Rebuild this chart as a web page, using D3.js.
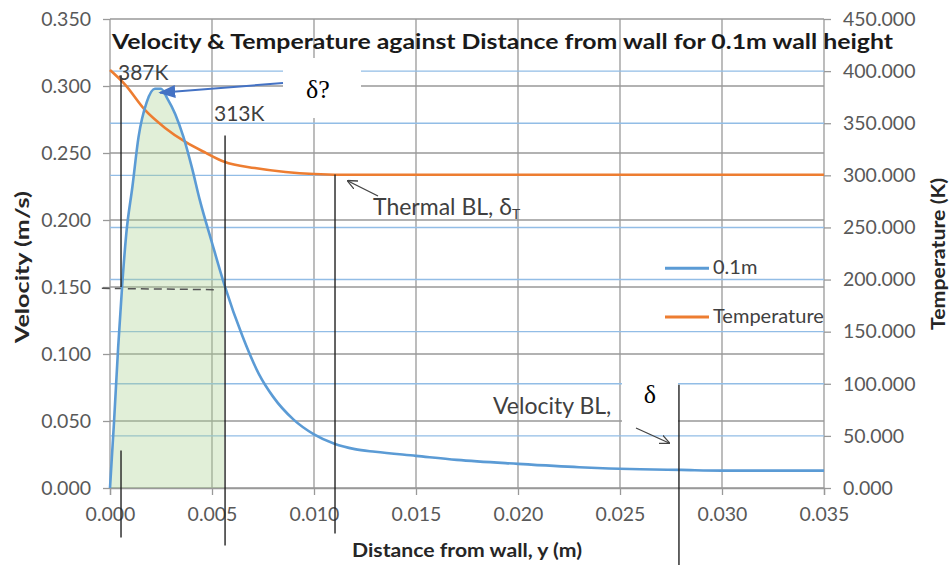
<!DOCTYPE html>
<html>
<head>
<meta charset="utf-8">
<script src="https://cdn.jsdelivr.net/npm/d3@7"></script>
<style>
  body { margin: 0; background: #fff; }
  svg { display: block; font-family: Lato, "Open Sans", sans-serif; }
</style>
</head>
<body>
<svg id="chart" width="949" height="565"></svg>
<script>
// datos
const velDist = [0, 0.0002, 0.0004, 0.0006, 0.0008, 0.0011, 0.0014, 0.0018, 0.0022, 0.0025, 0.0028, 0.0032,
  0.0036, 0.004, 0.0044, 0.005, 0.0056, 0.0065, 0.0073, 0.008, 0.009, 0.010, 0.011, 0.012, 0.013, 0.015,
  0.017, 0.020, 0.023, 0.026, 0.028, 0.030, 0.035];
const velocity = [0, 0.05, 0.105, 0.152, 0.19, 0.225, 0.262, 0.288, 0.298, 0.298, 0.291, 0.279,
  0.262, 0.240, 0.215, 0.183, 0.152, 0.113, 0.085, 0.068, 0.051, 0.040, 0.033, 0.029, 0.027, 0.024,
  0.021, 0.018, 0.0155, 0.014, 0.0135, 0.013, 0.013];
const tempDist = [0, 0.00074, 0.0017, 0.0027, 0.0037, 0.0047, 0.0056, 0.0071, 0.0086, 0.010, 0.012, 0.035];
const temperature = [401, 387, 363, 345.5, 332, 321.5, 313, 307, 303.2, 301.3, 300.5, 300.5];

const xTicks = [0, 0.005, 0.010, 0.015, 0.020, 0.025, 0.030, 0.035];
const velTicks = [0, 0.05, 0.10, 0.15, 0.20, 0.25, 0.30, 0.35];
const tempTicks = [0, 50, 100, 150, 200, 250, 300, 350, 400, 450];

// zona sombreada bajo la curva de velocidad
const shadeEnd = 0.0056;
// líneas verticales de referencia [x, desde, hasta] en m/s
const markers = [[0.00054, 0.150, 0.308], [0.00054, -0.037, 0.028], [0.00564, -0.043, 0.263],
  [0.01103, -0.034, 0.234], [0.02789, -0.058, 0.077]];

const svg = d3.select("#chart");
const mLeft = 110, mRight = 824, mTop = 19, mBottom = 488;

const x = d3.scaleLinear().domain([0, 0.035]).range([mLeft, mRight]);
const yV = d3.scaleLinear().domain([0, 0.35]).range([mBottom, mTop]);
const yT = d3.scaleLinear().domain([0, 450]).range([mBottom, mTop]);

const gridGray = "#999";
const gridBlue = "#92bde6";
const labelColor = "#595959";

// rejilla gris
svg.append("g").selectAll("line").data(velTicks).enter().append("line")
  .attr("x1", mLeft).attr("x2", mRight)
  .attr("y1", d => yV(d)).attr("y2", d => yV(d))
  .attr("stroke", gridGray).attr("stroke-width", 1.3);
svg.append("g").selectAll("line").data(xTicks).enter().append("line")
  .attr("x1", d => x(d)).attr("x2", d => x(d))
  .attr("y1", mTop).attr("y2", mBottom)
  .attr("stroke", gridGray).attr("stroke-width", 1.3);
// rejilla azul (eje de temperatura)
svg.append("g").selectAll("line").data(tempTicks.filter(d => d > 0 && d < 450)).enter().append("line")
  .attr("x1", mLeft).attr("x2", mRight)
  .attr("y1", d => yT(d)).attr("y2", d => yT(d))
  .attr("stroke", gridBlue).attr("stroke-width", 1.4);

// ejes
const axisL = svg.append("g").attr("transform", `translate(${mLeft},0)`)
  .call(d3.axisLeft(yV).tickValues(velTicks).tickFormat(d3.format(".3f")).tickSize(7).tickPadding(12));
const axisR = svg.append("g").attr("transform", `translate(${mRight},0)`)
  .call(d3.axisRight(yT).tickValues(tempTicks).tickFormat(d3.format(".3f")).tickSize(7).tickPadding(12));
const axisB = svg.append("g").attr("transform", `translate(0,${mBottom})`)
  .call(d3.axisBottom(x).tickValues(xTicks).tickFormat(d3.format(".3f")).tickSize(7).tickPadding(12));
[axisL, axisR, axisB].forEach(a => {
  a.select(".domain").attr("stroke", gridGray).attr("stroke-width", 1.3);
  a.selectAll(".tick line").attr("stroke", gridGray).attr("stroke-width", 1.3);
  a.selectAll("text").attr("fill", labelColor).style("font-size", "19.5px").style("font-family", "Lato");
});
axisL.select(".domain").remove();
axisR.select(".domain").remove();

// área sombreada
const shadeData = velDist.map((d, i) => [d, velocity[i]]).filter(d => d[0] <= shadeEnd);
svg.append("path")
  .datum(shadeData)
  .attr("d", d3.area().x(d => x(d[0])).y0(yV(0)).y1(d => yV(d[1])).curve(d3.curveMonotoneX))
  .attr("fill", "#a9d18e").attr("fill-opacity", 0.35);

// línea discontinua
svg.append("line")
  .attr("x1", x(-0.0004)).attr("x2", x(0.0053))
  .attr("y1", yV(0.149)).attr("y2", yV(0.148))
  .attr("stroke", "#555").attr("stroke-width", 1.5).attr("stroke-dasharray", "8,5");

// series
svg.append("path")
  .datum(tempDist.map((d, i) => [d, temperature[i]]))
  .attr("d", d3.line().x(d => x(d[0])).y(d => yT(d[1])).curve(d3.curveMonotoneX))
  .attr("fill", "none").attr("stroke", "#ed7d31").attr("stroke-width", 2.6);
svg.append("path")
  .datum(velDist.map((d, i) => [d, velocity[i]]))
  .attr("d", d3.line().x(d => x(d[0])).y(d => yV(d[1])).curve(d3.curveMonotoneX))
  .attr("fill", "none").attr("stroke", "#5b9bd5").attr("stroke-width", 2.6);

// líneas verticales
svg.append("g").selectAll("line").data(markers).enter().append("line")
  .attr("x1", d => x(d[0])).attr("x2", d => x(d[0]))
  .attr("y1", d => yV(d[1])).attr("y2", d => yV(d[2]))
  .attr("stroke", "#222").attr("stroke-width", 1.4);

// título
svg.append("text")
  .attr("x", 112).attr("y", 49)
  .attr("font-weight", "bold").attr("font-size", 20).attr("fill", "#1a1a1a")
  .attr("textLength", 781).attr("lengthAdjust", "spacingAndGlyphs")
  .text("Velocity & Temperature against Distance from wall for 0.1m wall height");

// títulos de ejes
svg.append("text")
  .attr("transform", "translate(29,267) rotate(-90)")
  .attr("text-anchor", "middle").attr("font-weight", "bold").attr("font-size", 18).attr("fill", "#262626")
  .attr("textLength", 152).attr("lengthAdjust", "spacingAndGlyphs")
  .text("Velocity (m/s)");
svg.append("text")
  .attr("transform", "translate(945,254) rotate(-90)")
  .attr("text-anchor", "middle").attr("font-weight", "bold").attr("font-size", 18).attr("fill", "#262626")
  .attr("textLength", 152).attr("lengthAdjust", "spacingAndGlyphs")
  .text("Temperature (K)");
svg.append("text")
  .attr("x", 467).attr("y", 557)
  .attr("text-anchor", "middle").attr("font-weight", "bold").attr("font-size", 18).attr("fill", "#262626")
  .attr("textLength", 230).attr("lengthAdjust", "spacingAndGlyphs")
  .text("Distance from wall, y (m)");

// leyenda
const legend = [["0.1m", "#5b9bd5", 0.164], ["Temperature", "#ed7d31", 0.1276]];
legend.forEach(([name, color, v]) => {
  svg.append("line").attr("x1", 665).attr("x2", 709).attr("y1", yV(v)).attr("y2", yV(v))
    .attr("stroke", color).attr("stroke-width", 3);
  svg.append("text").attr("x", 713).attr("y", yV(v) + 6)
    .attr("font-size", 20).attr("fill", "#404040").text(name);
});

// anotaciones
const defs = svg.append("defs");
defs.append("marker").attr("id", "headBlue").attr("viewBox", "0 0 10 10")
  .attr("refX", 9).attr("refY", 5).attr("markerWidth", 17).attr("markerHeight", 13)
  .attr("markerUnits", "userSpaceOnUse").attr("preserveAspectRatio", "none")
  .attr("orient", "auto")
  .append("path").attr("d", "M0,0 L10,5 L0,10 z").attr("fill", "#4472c4");
defs.append("marker").attr("id", "headOpen").attr("viewBox", "0 0 10 10")
  .attr("refX", 9).attr("refY", 5).attr("markerWidth", 10).attr("markerHeight", 10)
  .attr("markerUnits", "userSpaceOnUse")
  .attr("orient", "auto")
  .append("path").attr("d", "M0,0.5 L10,5 L0,9.5").attr("fill", "none").attr("stroke", "#444").attr("stroke-width", 1.3);

const annColor = "#404040";
svg.append("text").attr("x", 118).attr("y", 80).attr("font-size", 21).attr("fill", annColor).text("387K");
svg.append("text").attr("x", 214).attr("y", 121).attr("font-size", 21).attr("fill", annColor).text("313K");

// caja δ?
svg.append("rect").attr("x", 283).attr("y", 58).attr("width", 78).attr("height", 60).attr("fill", "#fff");
svg.append("text").attr("x", 318).attr("y", 98).attr("text-anchor", "middle")
  .attr("font-family", "'Liberation Serif', 'DejaVu Serif', serif").attr("font-size", 26).attr("fill", "#000")
  .text("δ?");
svg.append("line").attr("x1", 283).attr("y1", 83).attr("x2", x(0.00245)).attr("y2", yV(0.295))
  .attr("stroke", "#4472c4").attr("stroke-width", 2).attr("marker-end", "url(#headBlue)");

// capa límite térmica
const thermal = svg.append("text").attr("x", 373).attr("y", 215).attr("font-size", 23).attr("fill", annColor);
thermal.append("tspan").text("Thermal BL, δ");
thermal.append("tspan").attr("font-size", 14).attr("dy", 4).text("T");
svg.append("line").attr("x1", 378).attr("y1", 196).attr("x2", 348).attr("y2", 181)
  .attr("stroke", "#444").attr("stroke-width", 1.3).attr("marker-end", "url(#headOpen)");

// capa límite de velocidad
svg.append("text").attr("x", 493).attr("y", 414).attr("font-size", 23).attr("fill", annColor).text("Velocity BL,");
svg.append("rect").attr("x", 622).attr("y", 382).attr("width", 56).attr("height", 42).attr("fill", "#fff");
svg.append("text").attr("x", 650).attr("y", 403).attr("text-anchor", "middle")
  .attr("font-family", "'Liberation Serif', 'DejaVu Serif', serif").attr("font-size", 26).attr("fill", "#000")
  .text("δ");
svg.append("line").attr("x1", 636).attr("y1", 428).attr("x2", 669).attr("y2", 443)
  .attr("stroke", "#444").attr("stroke-width", 1.3).attr("marker-end", "url(#headOpen)");
</script>
</body>
</html>
